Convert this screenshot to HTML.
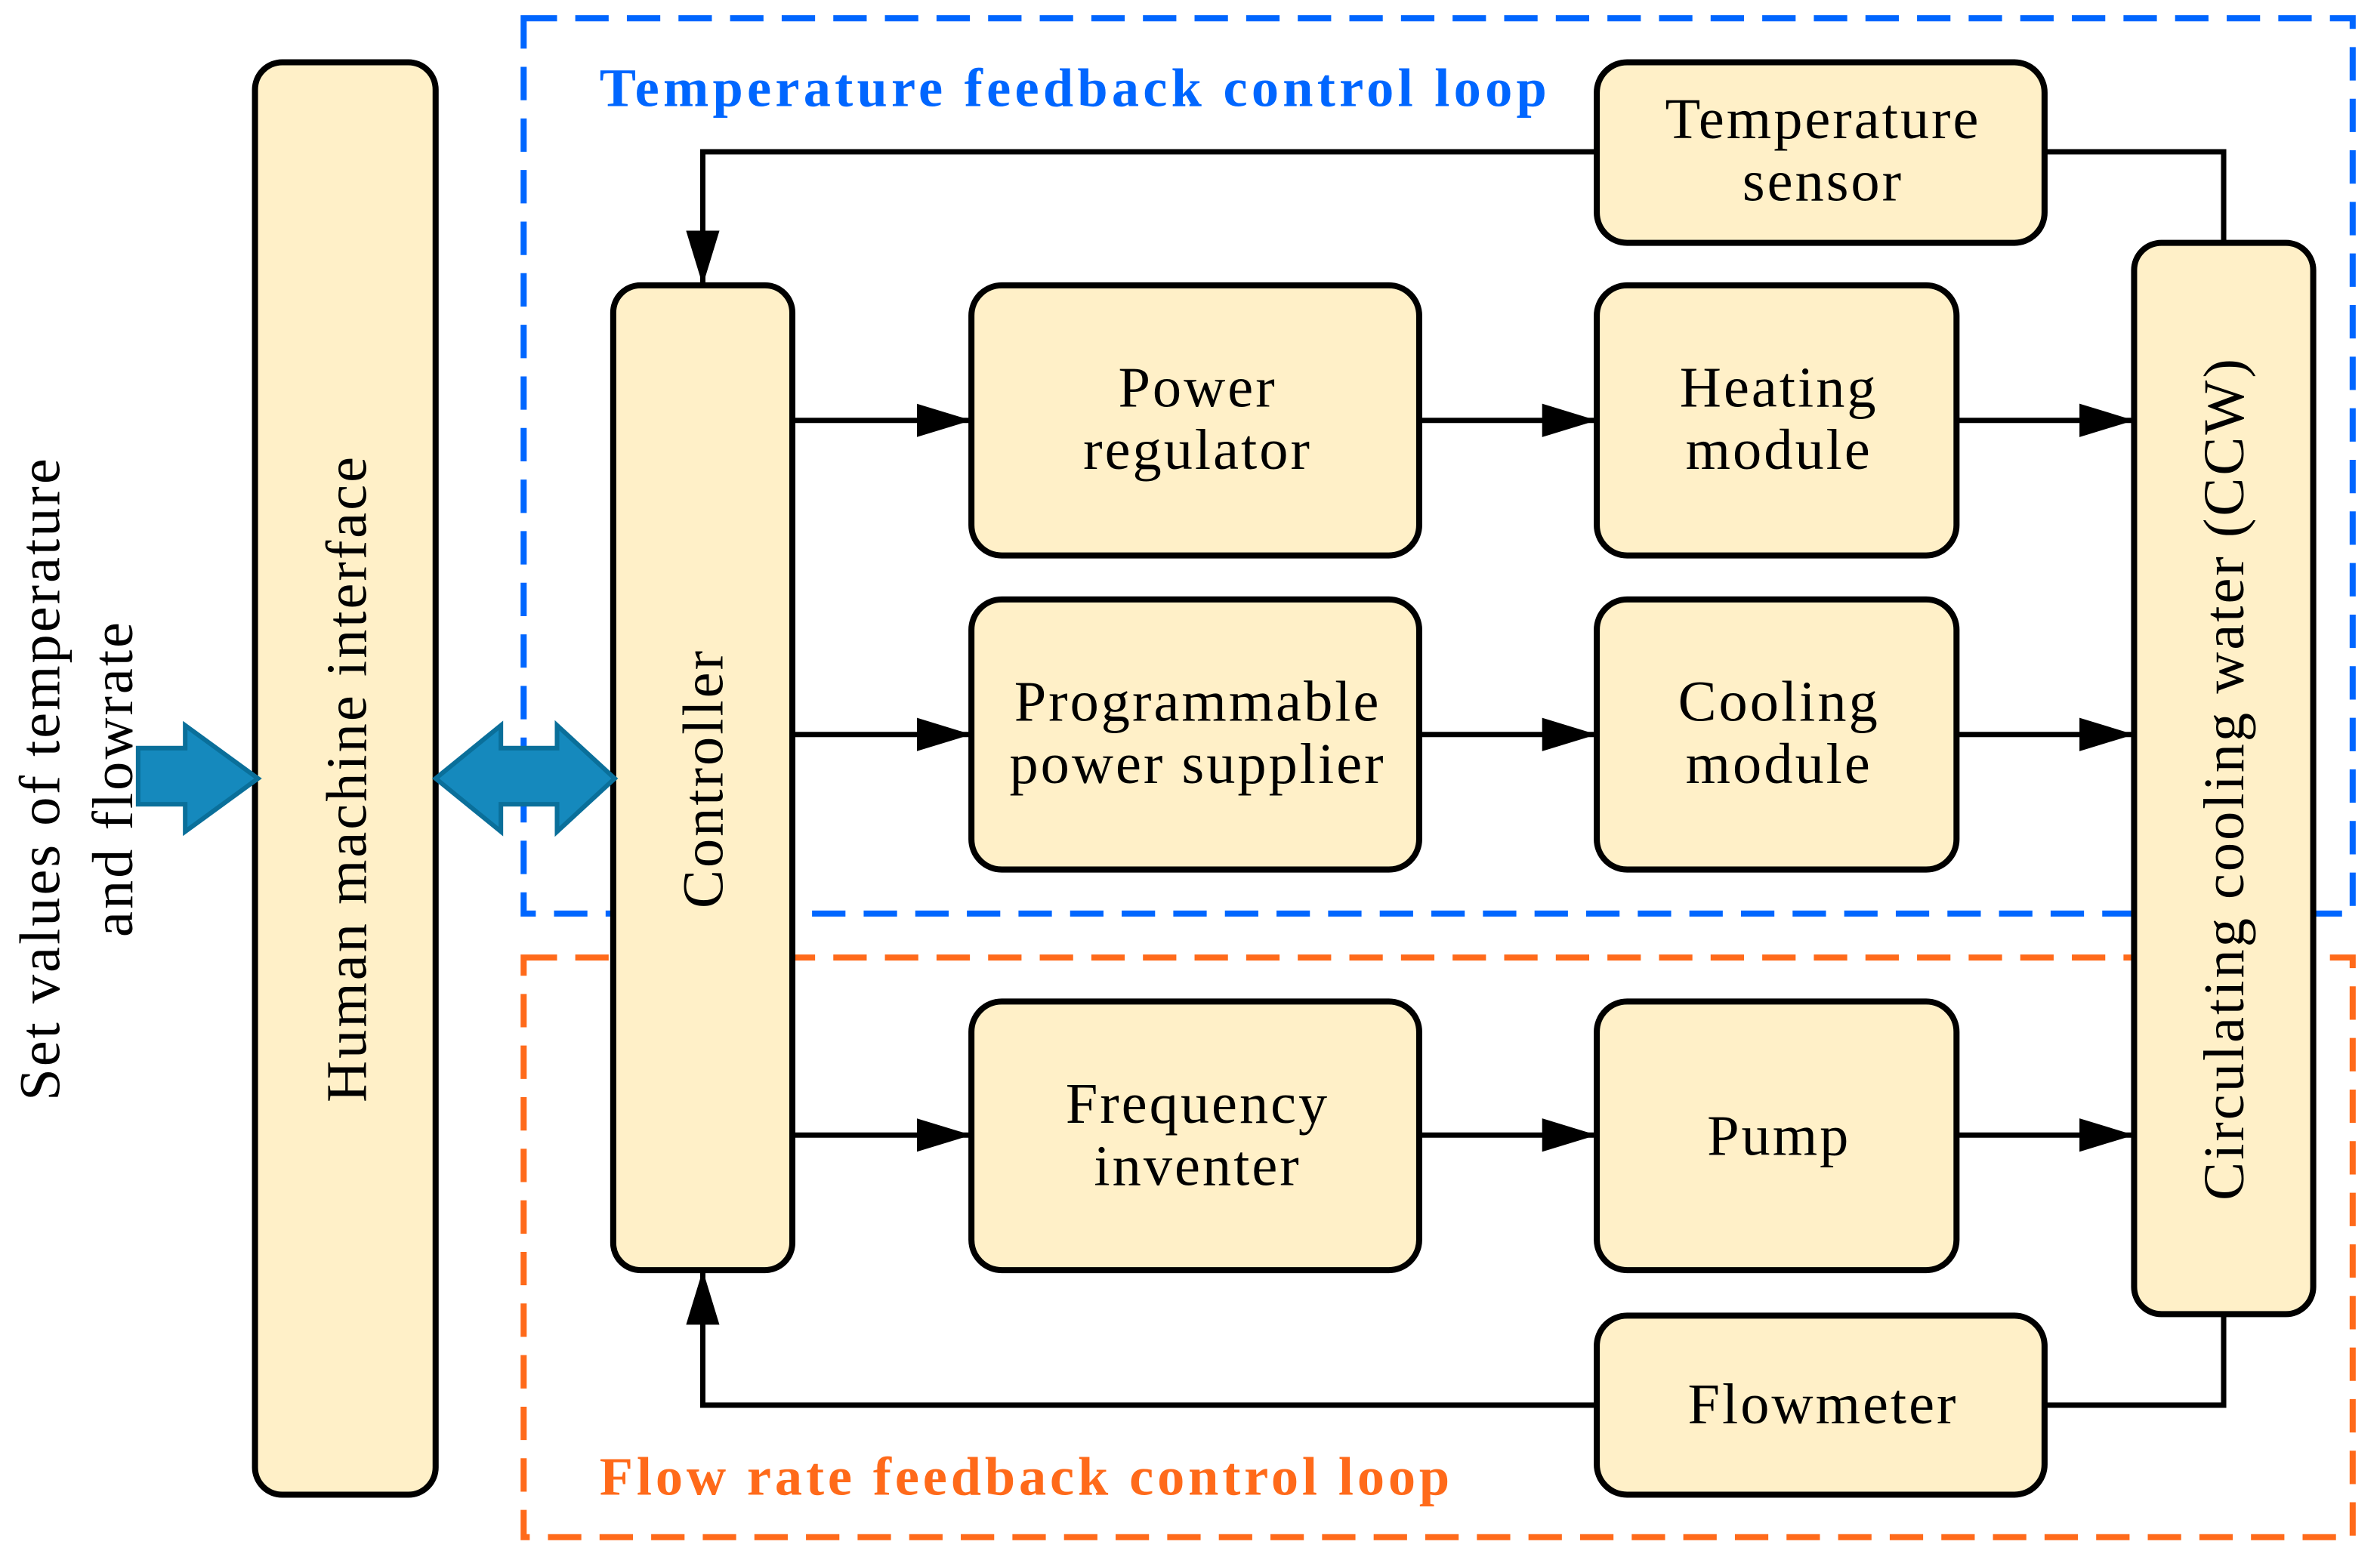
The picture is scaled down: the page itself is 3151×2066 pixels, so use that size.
<!DOCTYPE html>
<html><head><meta charset="utf-8"><style>html,body{margin:0;padding:0;background:#fff}svg{display:block}</style></head>
<body>
<svg width="3151" height="2066" viewBox="0 0 1568 1028" xmlns="http://www.w3.org/2000/svg" font-family="Liberation Serif, serif">
<defs><marker id="ah" markerWidth="36" markerHeight="22" refX="36" refY="11" orient="auto" markerUnits="userSpaceOnUse"><path d="M0,0 L36,11 L0,22 z" fill="#000"/></marker></defs>
<rect x="345" y="12" width="1205" height="590" fill="none" stroke="#0066ff" stroke-width="4" stroke-dasharray="22,12"/>
<rect x="345" y="631" width="1205" height="382" fill="none" stroke="#ff6a1a" stroke-width="4" stroke-dasharray="22,12"/>
<text x="395" y="70" font-size="36" font-weight="bold" fill="#0066ff" textLength="624">Temperature feedback control loop</text>
<text x="395" y="985" font-size="36" font-weight="bold" fill="#ff6a1a" textLength="560">Flow rate feedback control loop</text>
<g fill="#fff0c8" stroke="#000" stroke-width="4">
<rect x="168" y="41" width="119" height="944" rx="18"/>
<rect x="404" y="188" width="118" height="649" rx="18"/>
<rect x="640" y="188" width="295" height="178" rx="20"/>
<rect x="1052" y="188" width="237" height="178" rx="20"/>
<rect x="640" y="395" width="295" height="178" rx="20"/>
<rect x="1052" y="395" width="237" height="178" rx="20"/>
<rect x="640" y="660" width="295" height="177" rx="20"/>
<rect x="1052" y="660" width="237" height="177" rx="20"/>
<rect x="1052" y="41" width="295" height="119" rx="20"/>
<rect x="1052" y="867" width="295" height="118" rx="20"/>
<rect x="1406" y="160" width="118" height="706" rx="18"/>
</g>
<g stroke="#000" stroke-width="3.5" fill="none" marker-end="url(#ah)">
<line x1="522" y1="277" x2="640" y2="277"/><line x1="935" y1="277" x2="1052" y2="277"/><line x1="1289" y1="277" x2="1406" y2="277"/>
<line x1="522" y1="484" x2="640" y2="484"/><line x1="935" y1="484" x2="1052" y2="484"/><line x1="1289" y1="484" x2="1406" y2="484"/>
<line x1="522" y1="748" x2="640" y2="748"/><line x1="935" y1="748" x2="1052" y2="748"/><line x1="1289" y1="748" x2="1406" y2="748"/>
<polyline points="1052,100 463,100 463,188"/>
<polyline points="1052,926 463,926 463,837"/>
</g>
<g stroke="#000" stroke-width="3.5" fill="none">
<polyline points="1465,160 1465,100 1347,100"/>
<polyline points="1465,866 1465,926 1347,926"/>
</g>
<g fill="#1589bd" stroke="#0a6f9a" stroke-width="3" stroke-linejoin="miter">
<path d="M91,493 L122,493 L122,478 L170,513 L122,548 L122,530 L91,530 z"/>
<path d="M287,513 L330,478 L330,493 L367,493 L367,478 L405,513 L367,548 L367,530 L330,530 L330,548 z"/>
</g>
<g font-size="38" letter-spacing="1.5" text-anchor="middle" fill="#000">
<text x="789" y="268">Power</text><text x="789" y="309">regulator</text>
<text x="1172" y="268">Heating</text><text x="1172" y="309">module</text>
<text x="789" y="475">Programmable</text><text x="789" y="516">power supplier</text>
<text x="1172" y="475">Cooling</text><text x="1172" y="516">module</text>
<text x="789" y="740">Frequency</text><text x="789" y="781">inventer</text>
<text x="1172" y="761">Pump</text>
<text x="1201" y="91">Temperature</text><text x="1201" y="132">sensor</text>
<text x="1201" y="938">Flowmeter</text>
<text transform="translate(241,513) rotate(-90)">Human machine interface</text>
<text transform="translate(476,513) rotate(-90)">Controller</text>
<text transform="translate(1478,513) rotate(-90)">Circulating cooling water (CCW)</text>
<text transform="translate(39,513) rotate(-90)">Set values of temperature</text>
<text transform="translate(87,513) rotate(-90)">and flowrate</text>
</g>
</svg>
</body></html>
